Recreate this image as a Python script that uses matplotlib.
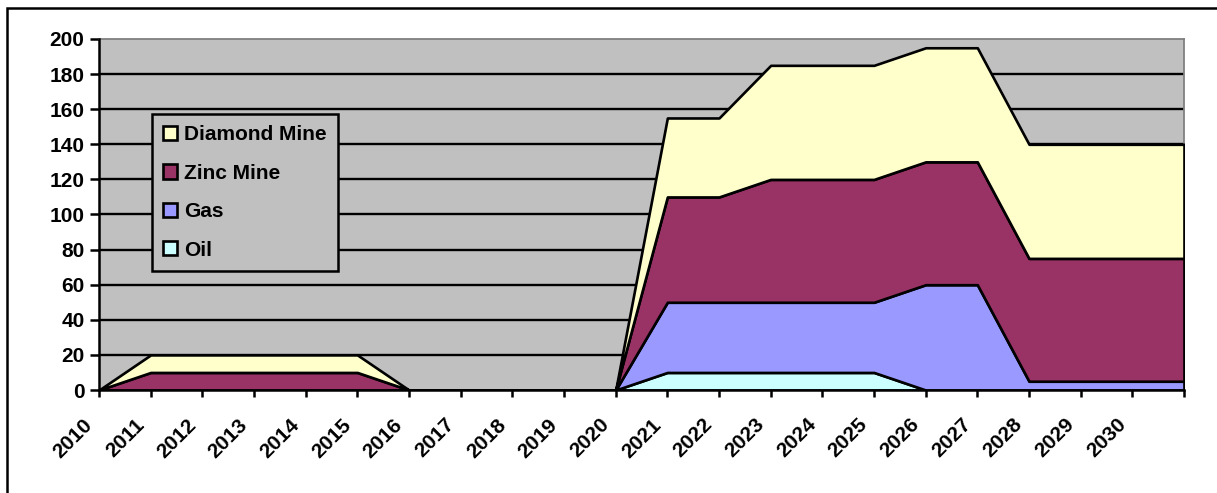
import matplotlib.pyplot as plt
from matplotlib.patches import Rectangle
from matplotlib.transforms import ScaledTranslation

plt.rcParams['font.family'] = ['Liberation Sans', 'DejaVu Sans']
plt.rcParams['font.weight'] = 'bold'

# data (years 2010..2031, last point is the right edge)
years = list(range(2010, 2032))
oil = [0, 0, 0, 0, 0, 0, 0, 0, 0, 0, 0, 10, 10, 10, 10, 10, 0, 0, 0, 0, 0, 0]
gas = [0, 0, 0, 0, 0, 0, 0, 0, 0, 0, 0, 40, 40, 40, 40, 40, 60, 60, 5, 5, 5, 5]
zinc = [0, 10, 10, 10, 10, 10, 0, 0, 0, 0, 0, 60, 60, 70, 70, 70, 70, 70, 70, 70, 70, 70]
diamond = [0, 10, 10, 10, 10, 10, 0, 0, 0, 0, 0, 45, 45, 65, 65, 65, 65, 65, 65, 65, 65, 65]
series_names = ['Oil', 'Gas', 'Zinc Mine', 'Diamond Mine']
colors = ['#CCFFFF', '#9999FF', '#993366', '#FFFFCC']
tick_labels = [str(y) for y in years[:-1]] + ['']
y_ticks = list(range(0, 201, 20))

fig = plt.figure(figsize=(12.17, 4.93), dpi=100)
ax = fig.add_axes([99 / 1217, 103 / 493, 1085 / 1217, 351 / 493])
ax.set_facecolor('#C0C0C0')

ax.stackplot(years, oil, gas, zinc, diamond, labels=series_names,
             colors=colors, edgecolor='black', linewidth=1.9, zorder=3)

ax.set_xlim(years[0], years[-1])
ax.set_ylim(0, 200)
ax.set_yticks(y_ticks)
ax.set_xticks(years)
ax.set_xticklabels(tick_labels, rotation=45, ha='right', rotation_mode='anchor')

# horizontal grid
for yv in y_ticks[1:-1]:
    ax.axhline(yv, color='black', linewidth=1.7, zorder=1)

for side in ['top', 'right']:
    ax.spines[side].set_color('#808080')
    ax.spines[side].set_linewidth(1.3)
for side in ['left', 'bottom']:
    ax.spines[side].set_color('black')
    ax.spines[side].set_linewidth(1.8)
    ax.spines[side].set_zorder(4)

ax.tick_params(axis='both', direction='out', width=1.8, colors='black', labelsize=15)
ax.tick_params(axis='y', length=6.5, pad=4)
ax.tick_params(axis='x', length=5, pad=13)

# nudge year labels to the left of their ticks (after tick_params!)
shift = ScaledTranslation(-16 / 100, 0, fig.dpi_scale_trans)
for lab in ax.get_xticklabels():
    lab.set_transform(lab.get_transform() + shift)

handles, labels = ax.get_legend_handles_labels()
leg = ax.legend(handles[::-1], labels[::-1], loc='upper left',
                bbox_to_anchor=(53 / 1085, 276 / 351), borderaxespad=0,
                fontsize=15, handlelength=0.67, handleheight=0.67,
                handletextpad=0.3, labelspacing=0.93, borderpad=0.55,
                fancybox=False, framealpha=1)
leg.get_frame().set_facecolor('#C0C0C0')
leg.get_frame().set_edgecolor('black')
leg.get_frame().set_linewidth(1.8)
leg.set_zorder(5)

# outer chart border
fig.patches.append(Rectangle((7 / 1217, -0.1), 1.2, (485 / 493) + 0.1,
                             transform=fig.transFigure, fill=False,
                             edgecolor='black', linewidth=1.8))

fig.savefig('out.png', dpi=100)
